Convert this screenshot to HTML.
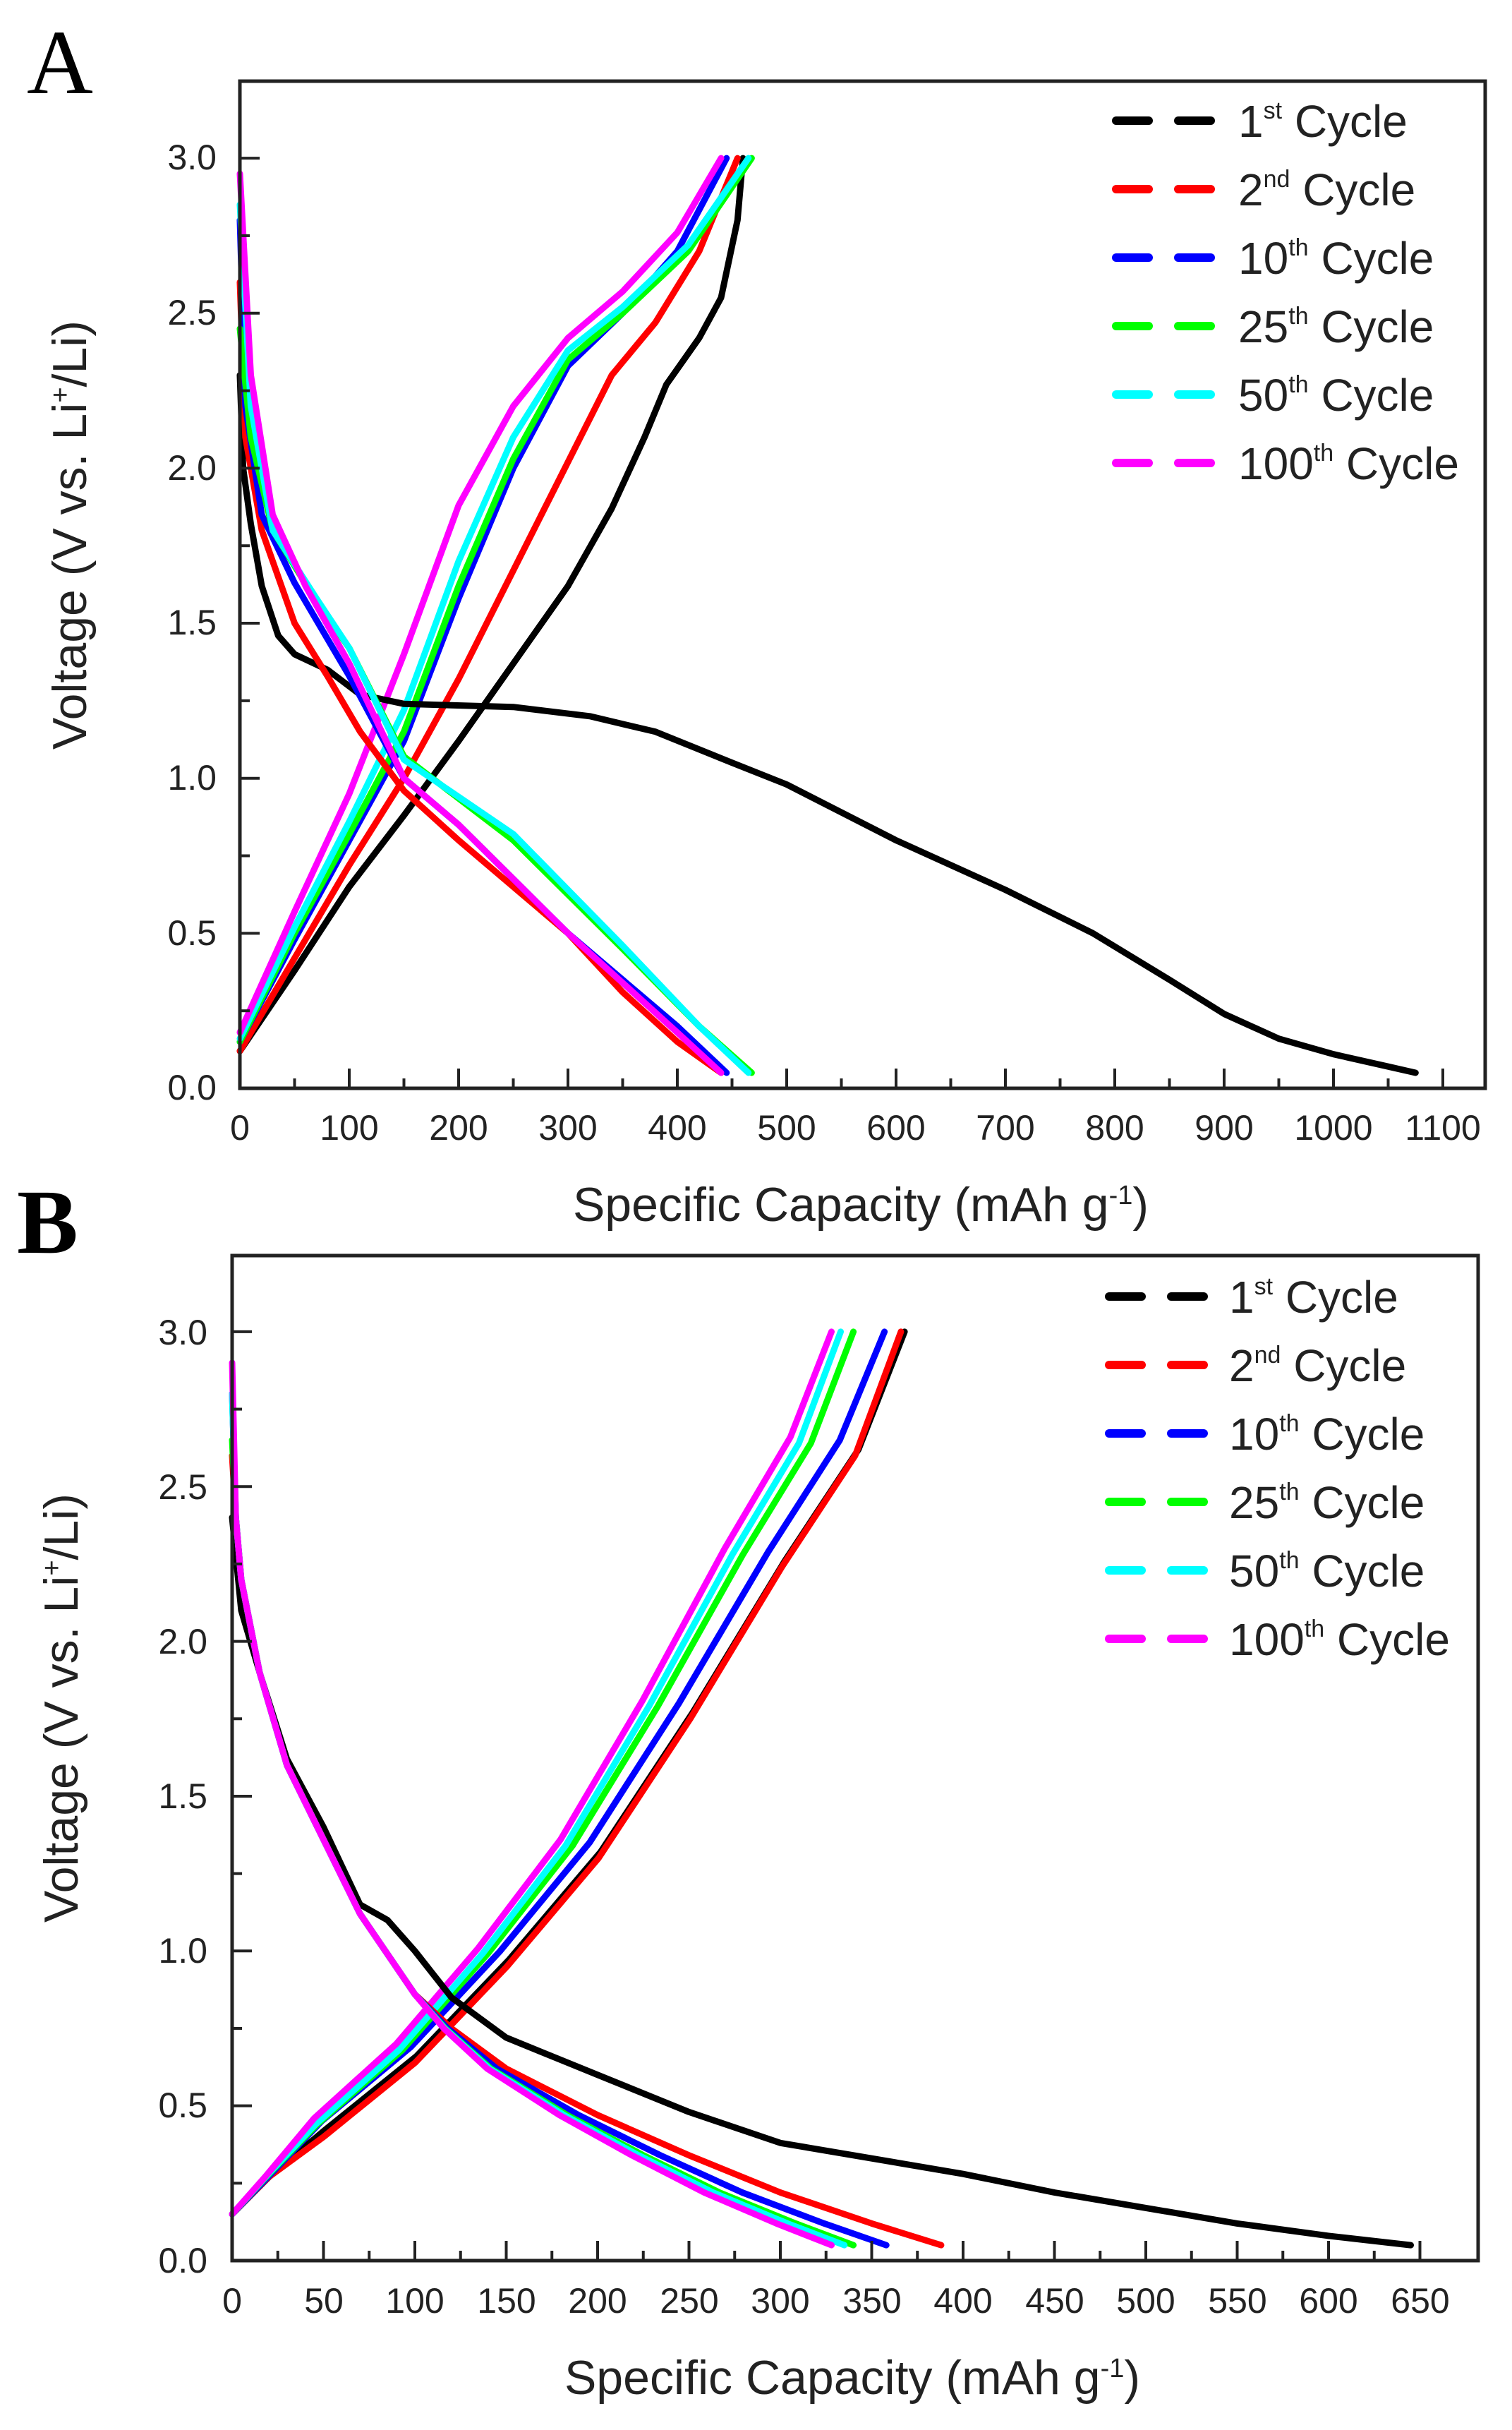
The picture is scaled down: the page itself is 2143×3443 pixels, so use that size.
<!DOCTYPE html>
<html><head><meta charset="utf-8"><style>
html,body{margin:0;padding:0;background:#fff}
svg{display:block}
text{font-family:"Liberation Sans",sans-serif;fill:#222}
</style></head><body>
<svg id="s" width="2143" height="3443" viewBox="0 0 2143 3443" xmlns="http://www.w3.org/2000/svg">
<rect width="2143" height="3443" fill="#fff"/>
<text x="38" y="132" style="font-family:'Liberation Serif',serif;font-size:130px;fill:#000">A</text>
<text x="24" y="1775" style="font-family:'Liberation Serif',serif;font-size:130px;font-weight:bold;fill:#000">B</text>
<g id="gA"></g><g id="gB"></g>
<g font-size="50" text-anchor="end">
<text x="307" y="240">3.0</text><text x="307" y="460">2.5</text><text x="307" y="680">2.0</text>
<text x="307" y="899">1.5</text><text x="307" y="1119">1.0</text><text x="307" y="1339">0.5</text><text x="307" y="1558">0.0</text>
</g>
<g font-size="50" text-anchor="middle">
<text x="340" y="1615">0</text><text x="495" y="1615">100</text><text x="650" y="1615">200</text><text x="805" y="1615">300</text>
<text x="960" y="1615">400</text><text x="1115" y="1615">500</text><text x="1270" y="1615">600</text><text x="1425" y="1615">700</text>
<text x="1580" y="1615">800</text><text x="1735" y="1615">900</text><text x="1890" y="1615">1000</text><text x="2045" y="1615">1100</text>
</g>
<text x="1220" y="1730" font-size="68" text-anchor="middle">Specific Capacity (mAh g<tspan dy="-24" font-size="38">-1</tspan><tspan dy="24">)</tspan></text>
<text transform="translate(122,758) rotate(-90)" font-size="68" text-anchor="middle">Voltage (V vs. Li<tspan dy="-24" font-size="38">+</tspan><tspan dy="24">/Li)</tspan></text>
<g font-size="64">
<text x="1755" y="194">1<tspan dy="-26" font-size="34">st</tspan><tspan dy="26"> Cycle</tspan></text>
<text x="1755" y="291">2<tspan dy="-26" font-size="34">nd</tspan><tspan dy="26"> Cycle</tspan></text>
<text x="1755" y="388">10<tspan dy="-26" font-size="34">th</tspan><tspan dy="26"> Cycle</tspan></text>
<text x="1755" y="485">25<tspan dy="-26" font-size="34">th</tspan><tspan dy="26"> Cycle</tspan></text>
<text x="1755" y="582">50<tspan dy="-26" font-size="34">th</tspan><tspan dy="26"> Cycle</tspan></text>
<text x="1755" y="679">100<tspan dy="-26" font-size="34">th</tspan><tspan dy="26"> Cycle</tspan></text>
</g>
<g font-size="50" text-anchor="end">
<text x="294" y="1905">3.0</text><text x="294" y="2124">2.5</text><text x="294" y="2343">2.0</text>
<text x="294" y="2562">1.5</text><text x="294" y="2781">1.0</text><text x="294" y="3000">0.5</text><text x="294" y="3220">0.0</text>
</g>
<g font-size="50" text-anchor="middle">
<text x="329" y="3277">0</text><text x="459" y="3277">50</text><text x="588" y="3277">100</text><text x="718" y="3277">150</text>
<text x="847" y="3277">200</text><text x="977" y="3277">250</text><text x="1106" y="3277">300</text><text x="1236" y="3277">350</text>
<text x="1365" y="3277">400</text><text x="1495" y="3277">450</text><text x="1624" y="3277">500</text><text x="1754" y="3277">550</text>
<text x="1883" y="3277">600</text><text x="2013" y="3277">650</text>
</g>
<text x="1208" y="3392" font-size="68" text-anchor="middle">Specific Capacity (mAh g<tspan dy="-24" font-size="38">-1</tspan><tspan dy="24">)</tspan></text>
<text transform="translate(110,2420) rotate(-90)" font-size="68" text-anchor="middle">Voltage (V vs. Li<tspan dy="-24" font-size="38">+</tspan><tspan dy="24">/Li)</tspan></text>
<g font-size="64">
<text x="1742" y="1860">1<tspan dy="-26" font-size="34">st</tspan><tspan dy="26"> Cycle</tspan></text>
<text x="1742" y="1957">2<tspan dy="-26" font-size="34">nd</tspan><tspan dy="26"> Cycle</tspan></text>
<text x="1742" y="2054">10<tspan dy="-26" font-size="34">th</tspan><tspan dy="26"> Cycle</tspan></text>
<text x="1742" y="2151">25<tspan dy="-26" font-size="34">th</tspan><tspan dy="26"> Cycle</tspan></text>
<text x="1742" y="2248">50<tspan dy="-26" font-size="34">th</tspan><tspan dy="26"> Cycle</tspan></text>
<text x="1742" y="2345">100<tspan dy="-26" font-size="34">th</tspan><tspan dy="26"> Cycle</tspan></text>
</g>
</svg>
<script>
var NS="http://www.w3.org/2000/svg";
function el(g,t,a){var e=document.createElementNS(NS,t);for(var k in a)e.setAttribute(k,a[k]);g.appendChild(e);return e;}
var C={k:"#000",r:"#f00",b:"#00f",g:"#0f0",c:"#0ff",m:"#f0f"};
function panel(gid,P,curves,legend){
 var g=document.getElementById(gid);
 function X(v){return P.x0+v*P.dx;} function Y(v){return P.y0-v*P.dy;}
 curves.forEach(function(c){
  var d=c.p.map(function(q,i){return (i?"L":"M")+X(q[0]).toFixed(1)+" "+Y(q[1]).toFixed(1);}).join("");
  el(g,"path",{d:d,fill:"none",stroke:C[c.c],"stroke-width":9,"stroke-linejoin":"round","stroke-linecap":"round"});
 });
 el(g,"rect",{x:P.L,y:P.T,width:P.R-P.L,height:P.B-P.T,fill:"none",stroke:"#222","stroke-width":5});
 for(var i=0;i<=P.nx*2;i++){var x=X(i*P.sx/2);el(g,"line",{x1:x,x2:x,y1:P.B,y2:P.B-(i%2?14:28),stroke:"#222","stroke-width":4});}
 for(var j=0;j<=12;j++){var y=Y(j*0.25);el(g,"line",{x1:P.L,x2:P.L+(j%2?14:28),y1:y,y2:y,stroke:"#222","stroke-width":4});}
 legend.forEach(function(l){
  el(g,"line",{x1:l[0],x2:l[0]+46,y1:l[1],y2:l[1],stroke:C[l[2]],"stroke-width":12,"stroke-linecap":"round"});
  el(g,"line",{x1:l[0]+88,x2:l[0]+134,y1:l[1],y2:l[1],stroke:C[l[2]],"stroke-width":12,"stroke-linecap":"round"});
 });
}
var A={x0:340,dx:1.55,y0:1542,dy:439.3,L:340,R:2105,T:115,B:1542,nx:11,sx:100};
var cA=[
{c:"k",p:[[0,0.12],[50,0.38],[100,0.65],[150,0.88],[200,1.12],[250,1.37],[300,1.62],[340,1.87],[370,2.1],[390,2.27],[420,2.42],[440,2.55],[455,2.8],[460,3.0]]},
{c:"r",p:[[0,0.12],[50,0.42],[100,0.72],[150,1.0],[200,1.32],[250,1.67],[300,2.02],[340,2.3],[380,2.47],[420,2.7],[455,3.0]]},
{c:"b",p:[[0,0.15],[50,0.48],[100,0.8],[150,1.12],[200,1.58],[250,2.0],[300,2.33],[350,2.5],[400,2.7],[445,3.0]]},
{c:"g",p:[[0,0.15],[50,0.5],[100,0.82],[150,1.15],[200,1.62],[250,2.03],[300,2.35],[350,2.5],[410,2.7],[468,3.0]]},
{c:"c",p:[[0,0.16],[50,0.52],[100,0.86],[150,1.22],[200,1.7],[250,2.1],[300,2.38],[350,2.52],[410,2.72],[465,3.0]]},
{c:"m",p:[[0,0.18],[50,0.57],[100,0.95],[150,1.4],[200,1.88],[250,2.2],[300,2.42],[350,2.57],[400,2.76],[440,3.0]]},
{c:"k",p:[[0,2.3],[3,2.0],[10,1.82],[20,1.62],[35,1.46],[50,1.4],[80,1.35],[110,1.27],[150,1.24],[250,1.23],[320,1.2],[380,1.15],[450,1.05],[500,0.98],[600,0.8],[700,0.64],[780,0.5],[850,0.35],[900,0.24],[950,0.16],[1000,0.11],[1050,0.07],[1075,0.05]]},
{c:"r",p:[[0,2.6],[5,2.1],[20,1.8],[50,1.5],[80,1.33],[110,1.15],[150,0.96],[200,0.8],[250,0.65],[300,0.5],[350,0.31],[400,0.15],[440,0.05]]},
{c:"b",p:[[0,2.8],[5,2.2],[20,1.85],[50,1.63],[100,1.33],[150,1.0],[200,0.85],[300,0.5],[400,0.2],[445,0.05]]},
{c:"g",p:[[0,2.45],[10,2.1],[30,1.8],[70,1.57],[100,1.42],[150,1.07],[250,0.8],[350,0.45],[420,0.2],[468,0.05]]},
{c:"c",p:[[0,2.85],[10,2.2],[30,1.8],[70,1.58],[100,1.42],[150,1.06],[250,0.82],[350,0.46],[420,0.2],[465,0.05]]},
{c:"m",p:[[0,2.95],[10,2.3],[30,1.85],[60,1.62],[100,1.37],[150,1.0],[200,0.85],[300,0.5],[400,0.18],[440,0.05]]}
];
panel("gA",A,cA,[[1582,171,"k"],[1582,268,"r"],[1582,365,"b"],[1582,462,"g"],[1582,559,"c"],[1582,656,"m"]]);
var B={x0:329,dx:2.59,y0:3203,dy:438.7,L:329,R:2095,T:1779,B:3203,nx:13,sx:50};
function charge(end,lift){var base=[[0,0.15],[20,0.27],[50,0.42],[100,0.66],[150,0.97],[200,1.32],[250,1.77],[300,2.26],[340,2.62],[365,3.0]];
 return base.map(function(q){return [q[0]*end/365,q[1]+(q[1]>0.3&&q[1]<2.9?lift:0)];});}
function dis(end,d0){var base=[[0,d0],[2,2.4],[5,2.2],[15,1.9],[30,1.6],[50,1.36],[70,1.12],[100,0.86],[120,0.75],[150,0.62],[200,0.47],[250,0.34],[300,0.22],[350,0.12],[388,0.05]];
 return base.map(function(q){return [q[0]<=100?q[0]:100+(q[0]-100)*(end-100)/288,q[1]];});}
var cB=[
{c:"k",p:charge(368,0)},{c:"r",p:charge(366,-0.02)},{c:"b",p:charge(357,0.03)},{c:"g",p:charge(340,0.02)},{c:"c",p:charge(333,0.02)},{c:"m",p:charge(328,0.04)},
{c:"k",p:[[0,2.4],[5,2.1],[15,1.9],[30,1.62],[50,1.4],[70,1.15],[85,1.1],[100,1.0],[120,0.85],[150,0.72],[200,0.6],[250,0.48],[300,0.38],[350,0.33],[400,0.28],[450,0.22],[500,0.17],[550,0.12],[600,0.08],[645,0.05]]},
{c:"r",p:dis(388,2.6)},{c:"b",p:dis(358,2.8)},{c:"g",p:dis(340,2.65)},{c:"c",p:dis(335,2.8)},{c:"m",p:dis(328,2.9)}
];
panel("gB",B,cB,[[1572,1837,"k"],[1572,1934,"r"],[1572,2031,"b"],[1572,2128,"g"],[1572,2225,"c"],[1572,2322,"m"]]);
</script>
</body></html>
